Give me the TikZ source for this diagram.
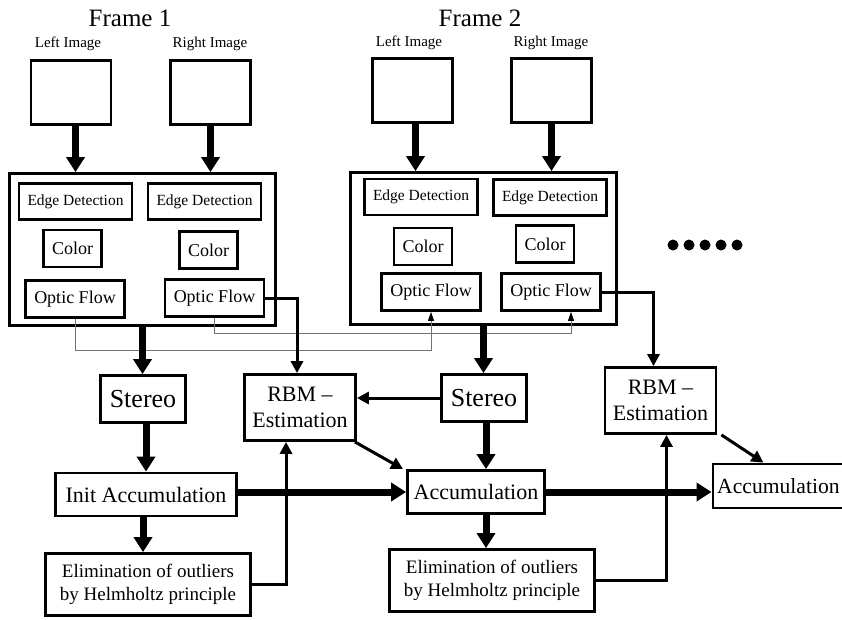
\documentclass[tikz,border=0pt]{standalone}
\usepackage{fontspec}
\setmainfont{Liberation Serif}
\usetikzlibrary{arrows.meta,calc}
\begin{document}
\begin{tikzpicture}[x=1pt,y=-1pt,
  bx/.style={draw, line width=2.8pt, inner sep=0pt, align=center},
  imgbox/.style={bx, minimum width=80pt, minimum height=64pt},
  framebox/.style={bx, minimum width=266pt, minimum height=152pt},
  edbox/.style={bx, minimum width=113pt, minimum height=36pt, font={\fontsize{15.5}{18}\selectfont}},
  colbox/.style={bx, minimum width=58pt, minimum height=37pt, font={\fontsize{18}{21}\selectfont}},
  ofbox/.style={bx, minimum width=99pt, minimum height=37pt, font={\fontsize{18}{21}\selectfont}},
  stbox/.style={bx, minimum width=85pt, minimum height=47pt, font={\fontsize{26}{30}\selectfont}},
  rbmbox/.style={bx, minimum width=111pt, minimum height=66pt, font={\fontsize{22}{26}\selectfont}},
  accbox/.style={bx, minimum height=43pt, font={\fontsize{22}{26}\selectfont}},
  elbox/.style={bx, minimum width=205pt, minimum height=62pt, font={\fontsize{19}{22.7}\selectfont}},
  framelbl/.style={inner sep=0pt, font={\fontsize{25}{30}\selectfont}},
  imglbl/.style={inner sep=0pt, font={\fontsize{15}{18}\selectfont}},
  bigarrow/.style={-{Triangle[width=18pt,length=15pt]}, line width=7pt},
  medarrow/.style={-{Triangle[width=12pt,length=12pt]}, line width=3pt},
  thinarrow/.style={draw=black!55, line width=1pt, -{Triangle[width=6pt,length=9pt,black]}},
  dot/.style={circle, fill=black, inner sep=0pt, minimum size=11pt}
]
\useasboundingbox (0,0) rectangle (842,619);
\clip (0,0) rectangle (842,619);

% Frame labels
\node[framelbl] (f1) at (130,18) {Frame 1};
\node[framelbl] (f2) at (480,18) {Frame 2};
\node[imglbl] (l1lbl) at (68,44) {Left Image};
\node[imglbl] (r1lbl) at (210,44) {Right Image};
\node[imglbl] (l2lbl) at (409,43) {Left Image};
\node[imglbl] (r2lbl) at (551,43) {Right Image};

% image boxes
\node[imgbox] (limg1) at (71,92.5) {};
\node[imgbox] (rimg1) at (210.5,92.5) {};
\node[imgbox] (limg2) at (412.5,90.5) {};
\node[imgbox] (rimg2) at (551.5,90.5) {};

% frame boxes
\node[framebox] (box1) at (142.5,249.5) {};
\node[framebox] (box2) at (483.5,248.5) {};

\node[edbox] (ed1l) at (75.5,201.5) {Edge Detection};
\node[edbox] (ed1r) at (204.5,201.5) {Edge Detection};
\node[colbox] (col1l) at (72.5,248.5) {Color};
\node[colbox] (col1r) at (208.5,250) {Color};
\node[ofbox] (of1l) at (75,299) {Optic Flow};
\node[ofbox] (of1r) at (214.5,298) {Optic Flow};

\node[edbox] (ed2l) at (421,197) {Edge Detection};
\node[edbox] (ed2r) at (550,197.5) {Edge Detection};
\node[colbox] (col2l) at (423,246.5) {Color};
\node[colbox] (col2r) at (545,244) {Color};
\node[ofbox] (of2l) at (431,292) {Optic Flow};
\node[ofbox] (of2r) at (551,292) {Optic Flow};

% dots
\node[dot] (d1) at (673,245) {};
\node[dot] (d2) at (689,245) {};
\node[dot] (d3) at (705,245) {};
\node[dot] (d4) at (721,245) {};
\node[dot] (d5) at (737,245) {};

% lower nodes
\node[stbox] (st1) at (143,399) {Stereo};
\node[rbmbox] (rbm1) at (300,407.5) {RBM --\\Estimation};
\node[stbox] (st2) at (484,398) {Stereo};
\node[rbmbox] (rbm2) at (660.5,400.5) {RBM --\\Estimation};
\node[accbox, minimum width=181pt] (ia) at (146,494.5) {Init Accumulation};
\node[accbox, minimum width=137pt] (acc2) at (476,492) {Accumulation};
\node[accbox, minimum width=131pt, minimum height=44pt, anchor=west, font={\fontsize{21.6}{26}\selectfont}] (acc3) at (711.5,486) {Accumulation};
\node[elbox] (el1) at (148,584.5) {Elimination of outliers\\by Helmholtz principle};
\node[elbox] (el2) at (492,580.5) {Elimination of outliers\\by Helmholtz principle};

% helper coordinates
\coordinate (g1) at (0,350);
\coordinate (g2) at (0,333);

% thin gray lines
\draw[thinarrow] (of1l.south) -- (of1l.south |- g1) -| (of2l.south);
\draw[thinarrow] (of1r.south) -- (of1r.south |- g2) -| ([xshift=20pt]of2r.south);

% big arrows
\draw[bigarrow] (ed1l |- limg1.south) -- (ed1l |- box1.north);
\draw[bigarrow] (rimg1.south) -- (rimg1.south |- box1.north);
\draw[bigarrow] ([xshift=3pt]limg2.south) -- ([xshift=3pt]limg2.south |- box2.north);
\draw[bigarrow] (rimg2.south) -- (rimg2.south |- box2.north);
\draw[bigarrow] (box1.south) -- (box1.south |- st1.north);
\draw[bigarrow] ([xshift=3pt]st1.south) -- ([xshift=3pt]st1.south |- ia.north);
\draw[bigarrow] ([xshift=-3pt]ia.south) -- ([xshift=-3pt]ia.south |- el1.north);
\draw[bigarrow] (ia.east |- acc2.west) -- (acc2.west);
\draw[bigarrow] (box2.south) -- (box2.south |- st2.north);
\draw[bigarrow] ([xshift=2pt]st2.south) -- ([xshift=2pt]st2.south |- acc2.north);
\draw[bigarrow] ([xshift=2pt]st2.south |- acc2.south) -- ([xshift=2pt]st2.south |- el2.north);
\draw[bigarrow] (acc2.east) -- (acc2.east -| acc3.west);

% medium arrows
\draw[medarrow] (of1r.east) -| ([xshift=-3pt]rbm1.north);
\draw[medarrow] (st2.west) -- (st2.west -| rbm1.east);
\draw[medarrow] ([xshift=-2pt]rbm1.south east) -- ([xshift=-3pt]acc2.north west);
\draw[medarrow] (el1.east) -| ([xshift=-14pt]rbm1.south);
\draw[medarrow] (of2r.east) -| ([xshift=-7pt]rbm2.north);
\draw[medarrow] ([xshift=4pt]rbm2.south east) -- ([xshift=52pt]acc3.north west);
\draw[medarrow] (el2.east) -| ([xshift=6pt]rbm2.south);
\end{tikzpicture}
\end{document}
